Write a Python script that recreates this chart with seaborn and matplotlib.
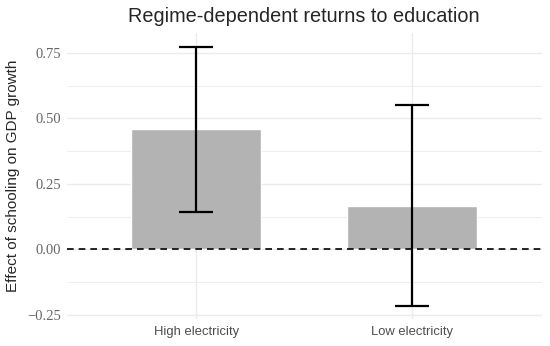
import matplotlib
matplotlib.use("Agg")
import matplotlib.pyplot as plt
import seaborn as sns
import pandas as pd
import numpy as np
from matplotlib.ticker import MultipleLocator

regimes = ["High electricity", "Low electricity"]
effects = [0.459, 0.167]
ci_low = [0.144, -0.217]
ci_high = [0.775, 0.552]
yticks = [-0.25, 0.00, 0.25, 0.50, 0.75]
ytick_labels = ["\u22120.25", "0.00", "0.25", "0.50", "0.75"]

df = pd.DataFrame({"regime": regimes, "effect": effects,
                   "lo": ci_low, "hi": ci_high})

sns.set_style("white")
fig = plt.figure(figsize=(5.5, 3.46), dpi=100)
ax = fig.add_axes([0.1213, 0.078, 0.985 - 0.1213, 0.9032 - 0.078])

sns.barplot(data=df, x="regime", y="effect", color="#b3b3b3", width=0.6,
            saturation=1, ax=ax, zorder=2, errorbar=None)

xs = np.arange(len(df))
ax.errorbar(xs, df["effect"], yerr=[df["effect"] - df["lo"], df["hi"] - df["effect"]],
            fmt="none", ecolor="black", elinewidth=1.6, capsize=12, capthick=1.6, zorder=3)

ax.axhline(0, color="black", linestyle=(0, (4, 3)), linewidth=1.2, zorder=4)

ax.set_xlim(-0.6, 1.6)
ax.set_ylim(-0.267, 0.825)
ax.set_yticks(yticks)
ax.set_yticklabels(ytick_labels, family="Liberation Serif", color="#666666", fontsize=10.5)
ax.yaxis.set_minor_locator(MultipleLocator(0.125))
ax.tick_params(axis="x", labelsize=9.4, labelcolor="#4d4d4d", length=0, pad=5)
ax.tick_params(axis="y", length=0, pad=4)
ax.tick_params(which="minor", length=0)
for lab in ax.get_xticklabels():
    lab.set_family("Liberation Sans")

ax.grid(True, which="major", axis="both", color="#ebebeb", linewidth=1.0, zorder=0)
ax.grid(True, which="minor", axis="y", color="#ebebeb", linewidth=0.6, zorder=0)
ax.set_axisbelow(True)
for s in ax.spines.values():
    s.set_visible(False)

ax.set_xlabel("")
ax.set_ylabel("Effect of schooling on GDP growth", family="Liberation Sans",
              fontsize=11, labelpad=5)
ax.set_title("Regime-dependent returns to education", family="Liberation Sans",
             fontsize=14.3, pad=8)

fig.savefig("out.png", dpi=100)
